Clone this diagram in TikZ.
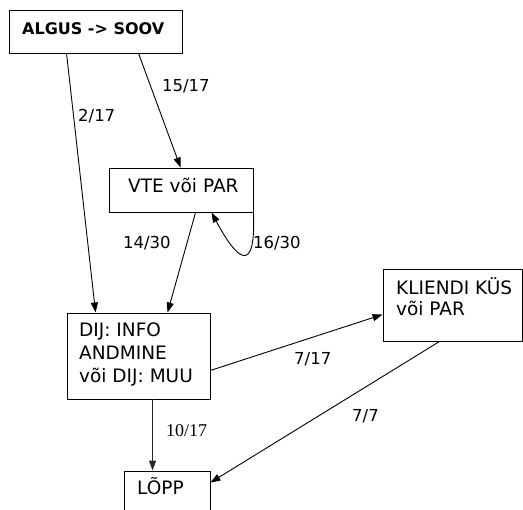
\documentclass[tikz,border=0pt]{standalone}
\usepackage{fontspec}
\setmainfont{DejaVu Sans}
\newfontfamily\tnr{Liberation Serif}
\usetikzlibrary{arrows.meta}
\tikzset{
  box/.style={draw, line width=0.9pt, inner sep=0pt, rectangle},
  txt/.style={anchor=base west, inner sep=0pt, font=\fontsize{18.5}{20}\selectfont},
  lbl/.style={anchor=base west, inner sep=0pt, font=\fontsize{16.5}{20}\selectfont},
  arr/.style={line width=0.9pt, -{Triangle[length=10pt,width=7pt]}},
}
\begin{document}
\begin{tikzpicture}[x=1pt,y=-1pt]
\useasboundingbox (0,0) rectangle (523,510);
\clip (0,0) rectangle (523,510);
% boxes
\node[box, minimum width=173pt, minimum height=43pt] (algus) at (95.5,31.5) {};
\node[box, minimum width=144pt, minimum height=44pt] (vte) at (181,190) {};
\node[box, minimum width=143pt, minimum height=86pt] (dij) at (138.5,356) {};
\node[box, minimum width=139pt, minimum height=72pt] (kl) at (452.5,305) {};
\node[box, minimum width=86pt, minimum height=60pt] (lopp) at (167,501) {};
% texts
\node[txt, font=\fontsize{16}{20}\selectfont\bfseries] (algust) at (22,35) {ALGUS -> SOOV};
\node[txt] (vtet) at (128,193) {VTE või PAR};
\node[txt] (dij1) at (79,337) {DIJ: INFO};
\node[txt] (dij2) at (79,360) {ANDMINE};
\node[txt] (dij3) at (79,383) {või DIJ: MUU};
\node[txt] (kl1) at (396,295) {KLIENDI KÜS};
\node[txt] (kl2) at (396,316) {või PAR};
\node[txt] (loppt) at (137,495) {LÕPP};
% labels
\node[lbl] (l1) at (78,122) {2/17};
\node[lbl] (l2) at (162,92) {15/17};
\node[lbl] (l3) at (123,249) {14/30};
\node[lbl] (l4) at (253,249) {16/30};
\node[lbl] (l5) at (294,365) {7/17};
\node[lbl] (l6) at (352,422) {7/7};
\node[lbl, font=\tnr\fontsize{18}{20}\selectfont] (l7) at (166,437) {10/17};
% connectors
\draw[arr] ([xshift=58pt]algus.south west) -- ([xshift=29pt]dij.north west);
\draw[arr] ([xshift=130pt]algus.south west) -- ([xshift=72pt]vte.north west);
\draw[arr] ([xshift=87pt]vte.south west) -- ([xshift=101pt]dij.north west);
\draw[arr] (vte.south east) .. controls (256,275) and (238,262) .. ([xshift=103pt]vte.south west);
\draw[arr] ([yshift=29pt]dij.south east) -- ([yshift=-46pt]kl.north west);
\draw[arr] ([xshift=57pt]kl.south west) -- ([yshift=-12pt]lopp.north east);
\draw[arr, line width=1.2pt, black!85] ([xshift=86pt]dij.south west) -- ([xshift=29pt]lopp.north west);
\end{tikzpicture}
\end{document}
